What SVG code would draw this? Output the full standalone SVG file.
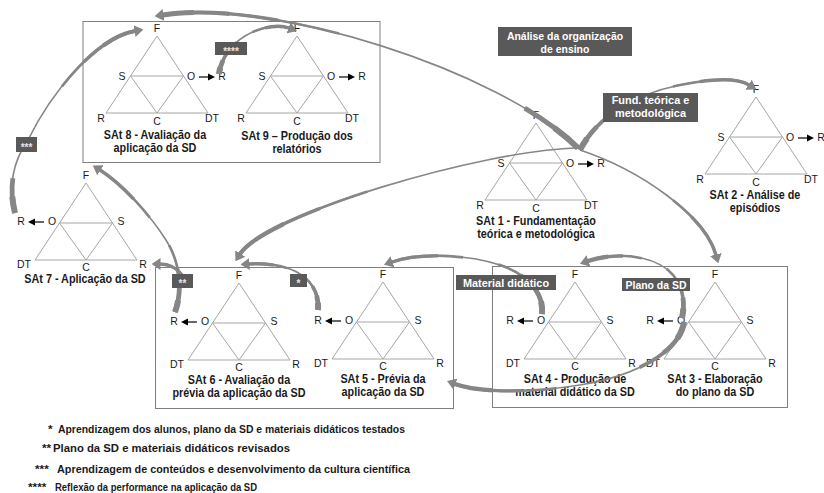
<svg xmlns="http://www.w3.org/2000/svg" width="824" height="493" viewBox="0 0 824 493">
<defs>
<style>
  text { font-family: "Liberation Sans", Arial, sans-serif; }
  .frame { fill: none; stroke: #7f7f7f; stroke-width: 1; }
  .tri { fill: none; stroke: #a6a6a6; stroke-width: 1; }
  .v { font-size: 10.5px; fill: #1a1a1a; text-anchor: middle; }
  .cap { font-size: 12px; font-weight: bold; fill: #1a1a1a; text-anchor: middle; }
  .out { fill: none; stroke: #000; stroke-width: 1.2; }
  .outh { fill: #000; }
  .cn { fill: none; stroke: #868686; stroke-linecap: butt; }
  .b { stroke-width: 1.6; marker-end: url(#head); }
  .w3 { stroke-width: 3.4; }
  .t1 { stroke-width: 2.6; stroke-dasharray: 40 200; }
  .t2 { stroke-width: 3.6; stroke-dasharray: 26 200; }
  .t3 { stroke-width: 4.8; stroke-dasharray: 15 200; }
  .t4 { stroke-width: 6; stroke-dasharray: 7 200; }
  .h1 { stroke-width: 2.6; stroke-dasharray: 0 60 40; }
  .h2 { stroke-width: 3.4; stroke-dasharray: 0 74 26; }
  .h3 { stroke-width: 4.2; stroke-dasharray: 0 85 15; }
  .h4 { stroke-width: 5; stroke-dasharray: 0 93 7; }
  .tag { fill: #595959; }
  .tagt { font-size: 11.5px; font-weight: bold; fill: #fff; text-anchor: middle; }
  .tags { font-size: 10px; font-weight: bold; fill: #e6e6e6; text-anchor: middle; }
  .leg { font-size: 11.8px; font-weight: bold; fill: #1a1a1a; }
</style>
<marker id="head" viewBox="0 0 9 12" refX="0.5" refY="6" markerWidth="9" markerHeight="12" markerUnits="userSpaceOnUse" orient="auto">
  <path d="M0,0 L9,6 L0,12 Z" fill="#868686"/>
</marker>
<!-- activity triangle, origin at the apex -->
<path id="tri" class="tri" d="M0,0 L-51,77 L51,77 Z M-26.5,40 L26.5,40 L0,77 Z"/>
<!-- small output arrows O -> R -->
<g id="oR"><path class="out" d="M42,0 H52"/><path class="outh" d="M51,-3.5 L58,0 L51,3.5 Z"/></g>
<g id="oL"><path class="out" d="M-42,0 H-52"/><path class="outh" d="M-51,-3.5 L-58,0 L-51,3.5 Z"/></g>
</defs>

<rect width="824" height="493" fill="#fff"/>

<!-- grouping frames -->
<g id="frames">
  <rect class="frame" x="83" y="21.5" width="297" height="141"/>
  <rect class="frame" x="155.5" y="267.5" width="298" height="141"/>
  <rect class="frame" x="492.5" y="266.5" width="295" height="141"/>
</g>

<g id="sat8">
  <use href="#tri" x="157" y="36"/>
  <text class="v" x="157" y="32">F</text>
  <text class="v" x="122" y="80">S</text>
  <text class="v" x="191" y="80">O</text>
  <use href="#oR" x="157" y="77"/>
  <text class="v" x="222" y="80">R</text>
  <text class="v" x="101" y="122">R</text>
  <text class="v" x="157" y="125">C</text>
  <text class="v" x="212" y="122">DT</text>
  <text class="cap" transform="translate(155 139) scale(0.9 1)">SAt 8 - Avaliação da</text>
  <text class="cap" transform="translate(155 152) scale(0.9 1)">aplicação da SD</text>
</g>

<g id="sat9">
  <use href="#tri" x="297" y="36"/>
  <text class="v" x="297" y="32">F</text>
  <text class="v" x="262" y="80">S</text>
  <text class="v" x="331" y="80">O</text>
  <use href="#oR" x="297" y="77"/>
  <text class="v" x="362" y="80">R</text>
  <text class="v" x="241" y="122">R</text>
  <text class="v" x="297" y="125">C</text>
  <text class="v" x="352" y="122">DT</text>
  <text class="cap" transform="translate(297 140) scale(0.9 1)">SAt 9 – Produção dos</text>
  <text class="cap" transform="translate(297 153) scale(0.9 1)">relatórios</text>
</g>

<g id="sat1">
  <use href="#tri" x="536" y="123"/>
  <text class="v" x="536" y="119">F</text>
  <text class="v" x="501" y="167">S</text>
  <text class="v" x="570" y="167">O</text>
  <use href="#oR" x="536" y="164"/>
  <text class="v" x="601" y="167">R</text>
  <text class="v" x="480" y="209">R</text>
  <text class="v" x="536" y="212">C</text>
  <text class="v" x="591" y="209">DT</text>
  <text class="cap" transform="translate(536 225) scale(0.9 1)">SAt 1 - Fundamentação</text>
  <text class="cap" transform="translate(536 238) scale(0.9 1)">teórica e metodológica</text>
</g>

<g id="sat2">
  <use href="#tri" x="756" y="97"/>
  <text class="v" x="756" y="93">F</text>
  <text class="v" x="721" y="141">S</text>
  <text class="v" x="790" y="141">O</text>
  <use href="#oR" x="756" y="138"/>
  <text class="v" x="821" y="141">R</text>
  <text class="v" x="700" y="183">R</text>
  <text class="v" x="756" y="186">C</text>
  <text class="v" x="811" y="183">DT</text>
  <text class="cap" transform="translate(755 199) scale(0.9 1)">SAt 2 - Análise de</text>
  <text class="cap" transform="translate(755 212) scale(0.9 1)">episódios</text>
</g>

<g id="sat7">
  <use href="#tri" x="86" y="183"/>
  <text class="v" x="86" y="179">F</text>
  <text class="v" x="52" y="225">O</text>
  <use href="#oL" x="86" y="222"/>
  <text class="v" x="21" y="225">R</text>
  <text class="v" x="121" y="225">S</text>
  <text class="v" x="24" y="268">DT</text>
  <text class="v" x="86" y="271">C</text>
  <text class="v" x="143" y="268">R</text>
  <text class="cap" transform="translate(85 283) scale(0.9 1)">SAt 7 - Aplicação da SD</text>
</g>

<g id="sat6">
  <use href="#tri" x="239" y="283"/>
  <text class="v" x="239" y="279">F</text>
  <text class="v" x="205" y="325">O</text>
  <use href="#oL" x="239" y="322"/>
  <text class="v" x="174" y="325">R</text>
  <text class="v" x="274" y="325">S</text>
  <text class="v" x="177" y="368">DT</text>
  <text class="v" x="239" y="371">C</text>
  <text class="v" x="296" y="368">R</text>
  <text class="cap" transform="translate(239 384) scale(0.9 1)">SAt 6 - Avaliação da</text>
  <text class="cap" transform="translate(239 397) scale(0.9 1)">prévia da aplicação da SD</text>
</g>

<g id="sat5">
  <use href="#tri" x="383" y="282"/>
  <text class="v" x="383" y="278">F</text>
  <text class="v" x="349" y="324">O</text>
  <use href="#oL" x="383" y="321"/>
  <text class="v" x="318" y="324">R</text>
  <text class="v" x="418" y="324">S</text>
  <text class="v" x="321" y="367">DT</text>
  <text class="v" x="383" y="370">C</text>
  <text class="v" x="440" y="367">R</text>
  <text class="cap" transform="translate(383 383) scale(0.9 1)">SAt 5 - Prévia da</text>
  <text class="cap" transform="translate(383 396) scale(0.9 1)">aplicação da SD</text>
</g>

<g id="sat4">
  <use href="#tri" x="575" y="282"/>
  <text class="v" x="575" y="278">F</text>
  <text class="v" x="541" y="324">O</text>
  <use href="#oL" x="575" y="321"/>
  <text class="v" x="510" y="324">R</text>
  <text class="v" x="610" y="324">S</text>
  <text class="v" x="513" y="367">DT</text>
  <text class="v" x="575" y="370">C</text>
  <text class="v" x="632" y="367">R</text>
  <text class="cap" transform="translate(575 383) scale(0.9 1)">SAt 4 - Produção de</text>
  <text class="cap" transform="translate(575 396) scale(0.9 1)">material didático da SD</text>
</g>

<g id="sat3">
  <use href="#tri" x="715" y="282"/>
  <text class="v" x="715" y="278">F</text>
  <text class="v" x="681" y="324">O</text>
  <use href="#oL" x="715" y="321"/>
  <text class="v" x="650" y="324">R</text>
  <text class="v" x="750" y="324">S</text>
  <text class="v" x="653" y="367">DT</text>
  <text class="v" x="715" y="370">C</text>
  <text class="v" x="772" y="367">R</text>
  <text class="cap" transform="translate(715 383) scale(0.9 1)">SAt 3 - Elaboração</text>
  <text class="cap" transform="translate(715 396) scale(0.9 1)">do plano da SD</text>
</g>

<!-- curved connectors: thin base line with arrowhead, widened near tail and head -->
<g id="connectors">
  <!-- SAt 1 to SAt 8 -->
  <path class="cn t3" pathLength="100" d="M578,148 C500,70 270,-2 163,15"/>
  <path class="cn t4" pathLength="100" d="M578,148 C500,70 270,-2 163,15"/>
  <path class="cn h1" pathLength="100" d="M578,148 C500,70 270,-2 163,15"/>
  <path class="cn h2" pathLength="100" d="M578,148 C500,70 270,-2 163,15"/>
  <path class="cn h3" pathLength="100" d="M578,148 C500,70 270,-2 163,15"/>
  <path class="cn h4" pathLength="100" d="M578,148 C500,70 270,-2 163,15"/>
  <path class="cn b" pathLength="100" d="M578,148 C500,70 270,-2 163,15"/>

  <!-- SAt 8 to SAt 9 -->
  <path class="cn t1" pathLength="100" d="M219,74 C221,58 232,44 245,36 C260,27 278,24 289,28"/>
  <path class="cn t2" pathLength="100" d="M219,74 C221,58 232,44 245,36 C260,27 278,24 289,28"/>
  <path class="cn t3" pathLength="100" d="M219,74 C221,58 232,44 245,36 C260,27 278,24 289,28"/>
  <path class="cn t4" pathLength="100" d="M219,74 C221,58 232,44 245,36 C260,27 278,24 289,28"/>
  <path class="cn h1" pathLength="100" d="M219,74 C221,58 232,44 245,36 C260,27 278,24 289,28"/>
  <path class="cn h2" pathLength="100" d="M219,74 C221,58 232,44 245,36 C260,27 278,24 289,28"/>
  <path class="cn b" pathLength="100" d="M219,74 C221,58 232,44 245,36 C260,27 278,24 289,28"/>

  <!-- SAt 7 to SAt 8 -->
  <path class="cn t3" pathLength="100" d="M15,213 C8,185 14,160 28,140 C50,95 95,38 135,31"/>
  <path class="cn t4" pathLength="100" d="M15,213 C8,185 14,160 28,140 C50,95 95,38 135,31"/>
  <path class="cn h1" pathLength="100" d="M15,213 C8,185 14,160 28,140 C50,95 95,38 135,31"/>
  <path class="cn h2" pathLength="100" d="M15,213 C8,185 14,160 28,140 C50,95 95,38 135,31"/>
  <path class="cn h3" pathLength="100" d="M15,213 C8,185 14,160 28,140 C50,95 95,38 135,31"/>
  <path class="cn b" pathLength="100" d="M15,213 C8,185 14,160 28,140 C50,95 95,38 135,31"/>

  <!-- SAt 6 to SAt 7 -->
  <path class="cn t1" pathLength="100" d="M175,312 C183,290 180,262 166,240 C152,218 125,186 100,170"/>
  <path class="cn t2" pathLength="100" d="M175,312 C183,290 180,262 166,240 C152,218 125,186 100,170"/>
  <path class="cn t3" pathLength="100" d="M175,312 C183,290 180,262 166,240 C152,218 125,186 100,170"/>
  <path class="cn t4" pathLength="100" d="M175,312 C183,290 180,262 166,240 C152,218 125,186 100,170"/>
  <path class="cn h1" pathLength="100" d="M175,312 C183,290 180,262 166,240 C152,218 125,186 100,170"/>
  <path class="cn h2" pathLength="100" d="M175,312 C183,290 180,262 166,240 C152,218 125,186 100,170"/>
  <path class="cn b" pathLength="100" d="M175,312 C183,290 180,262 166,240 C152,218 125,186 100,170"/>
  <path class="cn w3" d="M183,276 C177,268 169,264 160,264"/>
  <path class="cn b" d="M183,276 C177,268 169,264 160,264"/>

  <!-- SAt 5 to SAt 6 -->
  <path class="cn t1" pathLength="100" d="M318,310 C319,293 312,282 300,274 C288,266 268,263 249,264"/>
  <path class="cn t2" pathLength="100" d="M318,310 C319,293 312,282 300,274 C288,266 268,263 249,264"/>
  <path class="cn t3" pathLength="100" d="M318,310 C319,293 312,282 300,274 C288,266 268,263 249,264"/>
  <path class="cn t4" pathLength="100" d="M318,310 C319,293 312,282 300,274 C288,266 268,263 249,264"/>
  <path class="cn h1" pathLength="100" d="M318,310 C319,293 312,282 300,274 C288,266 268,263 249,264"/>
  <path class="cn h2" pathLength="100" d="M318,310 C319,293 312,282 300,274 C288,266 268,263 249,264"/>
  <path class="cn b" pathLength="100" d="M318,310 C319,293 312,282 300,274 C288,266 268,263 249,264"/>

  <!-- SAt 1 to SAt 6 -->
  <path class="cn h1" pathLength="100" d="M578,148 C480,150 265,215 240,254"/>
  <path class="cn h2" pathLength="100" d="M578,148 C480,150 265,215 240,254"/>
  <path class="cn h3" pathLength="100" d="M578,148 C480,150 265,215 240,254"/>
  <path class="cn b" pathLength="100" d="M578,148 C480,150 265,215 240,254"/>

  <!-- SAt 1 to SAt 3 -->
  <path class="cn h1" pathLength="100" d="M580,150 C640,170 705,215 716,255"/>
  <path class="cn h2" pathLength="100" d="M580,150 C640,170 705,215 716,255"/>
  <path class="cn b" pathLength="100" d="M580,150 C640,170 705,215 716,255"/>

  <!-- SAt 1 to SAt 2 -->
  <path class="cn t1" pathLength="100" d="M580,150 C595,120 630,95 680,85 C715,78 738,78 749,85"/>
  <path class="cn t2" pathLength="100" d="M580,150 C595,120 630,95 680,85 C715,78 738,78 749,85"/>
  <path class="cn t3" pathLength="100" d="M580,150 C595,120 630,95 680,85 C715,78 738,78 749,85"/>
  <path class="cn t4" pathLength="100" d="M580,150 C595,120 630,95 680,85 C715,78 738,78 749,85"/>
  <path class="cn h1" pathLength="100" d="M580,150 C595,120 630,95 680,85 C715,78 738,78 749,85"/>
  <path class="cn h2" pathLength="100" d="M580,150 C595,120 630,95 680,85 C715,78 738,78 749,85"/>
  <path class="cn b" pathLength="100" d="M580,150 C595,120 630,95 680,85 C715,78 738,78 749,85"/>

  <!-- SAt 4 to SAt 5 -->
  <path class="cn t1" pathLength="100" d="M542,314 C544,295 530,275 500,265 C470,255 420,252 392,262"/>
  <path class="cn t2" pathLength="100" d="M542,314 C544,295 530,275 500,265 C470,255 420,252 392,262"/>
  <path class="cn t3" pathLength="100" d="M542,314 C544,295 530,275 500,265 C470,255 420,252 392,262"/>
  <path class="cn t4" pathLength="100" d="M542,314 C544,295 530,275 500,265 C470,255 420,252 392,262"/>
  <path class="cn h1" pathLength="100" d="M542,314 C544,295 530,275 500,265 C470,255 420,252 392,262"/>
  <path class="cn h2" pathLength="100" d="M542,314 C544,295 530,275 500,265 C470,255 420,252 392,262"/>
  <path class="cn b" pathLength="100" d="M542,314 C544,295 530,275 500,265 C470,255 420,252 392,262"/>

  <!-- SAt 3 to SAt 4 -->
  <path class="cn t1" pathLength="100" d="M682,318 C686,300 682,282 668,270 C650,255 615,252 588,261"/>
  <path class="cn t2" pathLength="100" d="M682,318 C686,300 682,282 668,270 C650,255 615,252 588,261"/>
  <path class="cn t3" pathLength="100" d="M682,318 C686,300 682,282 668,270 C650,255 615,252 588,261"/>
  <path class="cn t4" pathLength="100" d="M682,318 C686,300 682,282 668,270 C650,255 615,252 588,261"/>
  <path class="cn h1" pathLength="100" d="M682,318 C686,300 682,282 668,270 C650,255 615,252 588,261"/>
  <path class="cn h2" pathLength="100" d="M682,318 C686,300 682,282 668,270 C650,255 615,252 588,261"/>
  <path class="cn h3" pathLength="100" d="M682,318 C686,300 682,282 668,270 C650,255 615,252 588,261"/>
  <path class="cn b" pathLength="100" d="M682,318 C686,300 682,282 668,270 C650,255 615,252 588,261"/>

  <!-- SAt 3 to SAt 5 -->
  <path class="cn t2" pathLength="100" d="M684,322 C680,350 640,375 580,385 C530,393 480,393 455,384"/>
  <path class="cn t3" pathLength="100" d="M684,322 C680,350 640,375 580,385 C530,393 480,393 455,384"/>
  <path class="cn t4" pathLength="100" d="M684,322 C680,350 640,375 580,385 C530,393 480,393 455,384"/>
  <path class="cn h1" pathLength="100" d="M684,322 C680,350 640,375 580,385 C530,393 480,393 455,384"/>
  <path class="cn h2" pathLength="100" d="M684,322 C680,350 640,375 580,385 C530,393 480,393 455,384"/>
  <path class="cn h3" pathLength="100" d="M684,322 C680,350 640,375 580,385 C530,393 480,393 455,384"/>
  <path class="cn b" pathLength="100" d="M684,322 C680,350 640,375 580,385 C530,393 480,393 455,384"/>
</g>

<!-- connector labels -->
<g id="connector-labels">
  <rect class="tag" x="498" y="27" width="134" height="29"/>
  <text class="tagt" transform="translate(565 39.5) scale(0.91 1)">Análise da organização</text>
  <text class="tagt" transform="translate(565 52.5) scale(0.91 1)">de ensino</text>
  <rect class="tag" x="603" y="93" width="95" height="29"/>
  <text class="tagt" transform="translate(650.5 104) scale(0.95 1)">Fund. teórica e</text>
  <text class="tagt" transform="translate(650.5 117) scale(0.95 1)">metodológica</text>
  <rect class="tag" x="456" y="275" width="100" height="15"/>
  <text class="tagt" transform="translate(506 286.5) scale(0.95 1)">Material didático</text>
  <rect class="tag" x="622" y="278" width="68" height="13"/>
  <text class="tagt" transform="translate(656 288.5) scale(0.91 1)">Plano da SD</text>
  <rect class="tag" x="215" y="42" width="32" height="13"/>
  <text class="tags" x="231" y="54.5">****</text>
  <rect class="tag" x="16" y="137" width="21" height="15"/>
  <text class="tags" x="26.5" y="150.5">***</text>
  <rect class="tag" x="172" y="274" width="21" height="14"/>
  <text class="tags" x="182.5" y="287">**</text>
  <rect class="tag" x="290" y="274" width="17" height="13"/>
  <text class="tags" x="298.5" y="286.5">*</text>
</g>

<g id="legend">
  <text class="leg" x="48" y="433">*</text>
  <text class="leg" x="58" y="433" textLength="347" lengthAdjust="spacingAndGlyphs">Aprendizagem dos alunos, plano da SD e materiais didáticos testados</text>
  <text class="leg" x="42" y="452">**</text>
  <text class="leg" x="53" y="452" textLength="237" lengthAdjust="spacingAndGlyphs">Plano da SD e materiais didáticos revisados</text>
  <text class="leg" x="35" y="473">***</text>
  <text class="leg" x="57" y="473" textLength="353" lengthAdjust="spacingAndGlyphs">Aprendizagem de conteúdos e desenvolvimento da cultura científica</text>
  <text class="leg" x="28" y="491">****</text>
  <text class="leg" x="55" y="491" textLength="202" lengthAdjust="spacingAndGlyphs">Reflexão da performance na aplicação da SD</text>
</g>
</svg>
